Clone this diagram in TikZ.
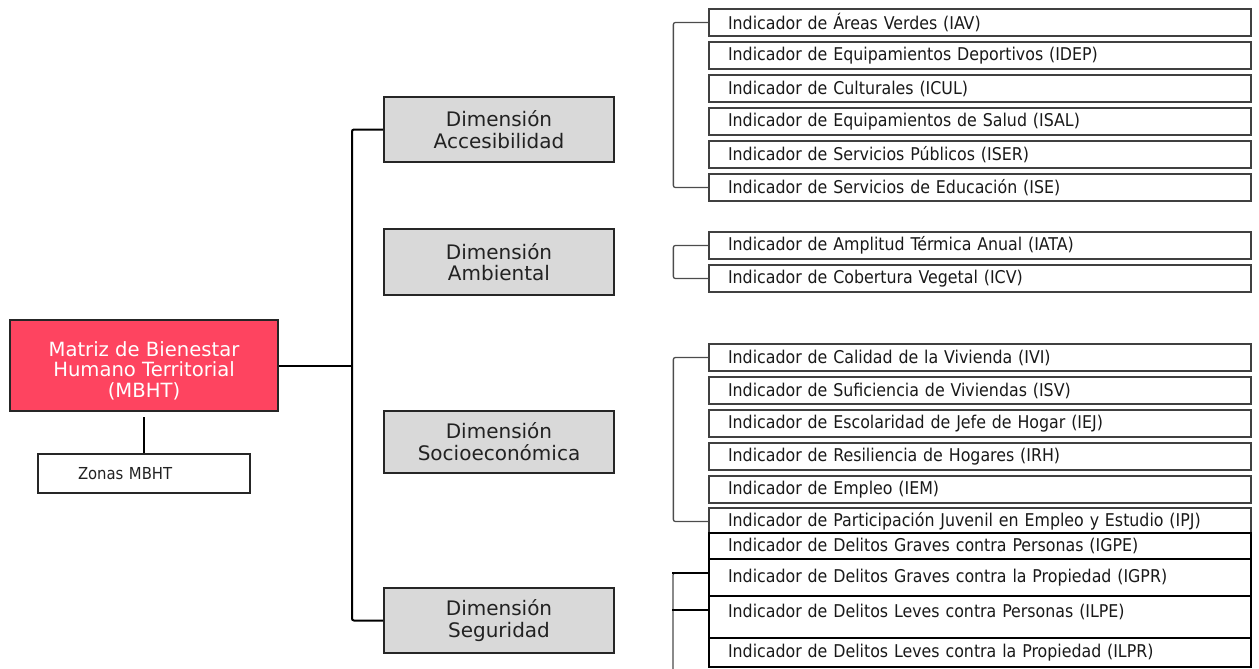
\documentclass[tikz,border=0pt]{standalone}
\usepackage{fontspec}
\setmainfont{DejaVu Sans}
\newfontfamily\indfont{DejaVu Sans Condensed}
\definecolor{mbhtred}{RGB}{254,68,96}
\definecolor{dimfill}{RGB}{217,217,217}
\definecolor{txt}{RGB}{34,34,34}
\begin{document}
\begin{tikzpicture}[x=1pt,y=-1pt,
  mainbox/.style={draw=black!85, line width=2pt, fill=mbhtred, minimum width=268pt, minimum height=91pt, align=center, text=white, inner sep=0pt, font=\fontsize{19.6}{20.5}\selectfont},
  zonebox/.style={draw=black!85, line width=2pt, fill=white, minimum height=39pt, text width=132pt, inner xsep=40pt, inner ysep=0pt, align=left, text=txt, font=\indfont\fontsize{16.5}{18}\selectfont},
  dimbox/.style={draw=black!85, line width=2pt, fill=dimfill, minimum width=230pt, align=center, text=txt, inner sep=0pt, font=\fontsize{20}{21.5}\selectfont},
  indbox/.style={draw=black!75, line width=1.3pt, fill=white, minimum height=27pt, text width=504pt, inner xsep=19pt, inner ysep=0pt, align=left, text=black!90, font=\indfont\fontsize{17.6}{19}\selectfont},
  secbox/.style={indbox, draw=black, line width=2.2pt},
  tree/.style={draw=black, line width=2pt, rounded corners=2pt},
  brk/.style={draw=black!70, line width=1.3pt, rounded corners=2pt},
  tick/.style={draw=black, line width=2pt}
]
\useasboundingbox (0,0) rectangle (1259,669);

% main boxes
\node[mainbox, text height=68pt, text depth=5pt] (MBHT) at (144,365.5) {Matriz de Bienestar\\Humano Territorial\\(MBHT)};
\node[zonebox] (Zonas) at (144,473.5) {Zonas MBHT};

\node[dimbox, minimum height=65pt] (Acc) at (499,129.5) {Dimensión\\Accesibilidad};
\node[dimbox, minimum height=66pt] (Amb) at (499,262) {Dimensión\\Ambiental};
\node[dimbox, minimum height=62pt] (Soc) at (499,441.5) {Dimensión\\Socioeconómica};
\node[dimbox, minimum height=65pt] (Seg) at (499,620.5) {Dimensión\\Seguridad};

% group 1
\node[indbox] (IAV)  at (980,22.5)  {Indicador de Áreas Verdes (IAV)};
\node[indbox] (IDEP) at (980,55.5)  {Indicador de Equipamientos Deportivos (IDEP)};
\node[indbox] (ICUL) at (980,88.5)  {Indicador de Culturales (ICUL)};
\node[indbox] (ISAL) at (980,121.5) {Indicador de Equipamientos de Salud (ISAL)};
\node[indbox] (ISER) at (980,154.5) {Indicador de Servicios Públicos (ISER)};
\node[indbox] (ISE)  at (980,187.5) {Indicador de Servicios de Educación (ISE)};

% group 2
\node[indbox] (IATA) at (980,245.5) {Indicador de Amplitud Térmica Anual (IATA)};
\node[indbox] (ICV)  at (980,278.5) {Indicador de Cobertura Vegetal (ICV)};

% group 3
\node[indbox] (IVI) at (980,357.5) {Indicador de Calidad de la Vivienda (IVI)};
\node[indbox] (ISV) at (980,390.5) {Indicador de Suficiencia de Viviendas (ISV)};
\node[indbox] (IEJ) at (980,423.5) {Indicador de Escolaridad de Jefe de Hogar (IEJ)};
\node[indbox] (IRH) at (980,456.5) {Indicador de Resiliencia de Hogares (IRH)};
\node[indbox] (IEM) at (980,489.5) {Indicador de Empleo (IEM)};
\node[indbox] (IPJ) at (980,521.5) {Indicador de Participación Juvenil en Empleo y Estudio (IPJ)};

% group 4
\node[secbox, minimum height=26pt] (IGPE) at (980,546) {Indicador de Delitos Graves contra Personas (IGPE)};
\node[secbox, minimum height=37pt] (IGPR) at (980,577.5) {Indicador de Delitos Graves contra la Propiedad (IGPR)};
\node[secbox, minimum height=42pt, text height=11pt, text depth=11pt] (ILPE) at (980,617) {Indicador de Delitos Leves contra Personas (ILPE)};
\node[secbox, minimum height=29pt] (ILPR) at (980,652.5) {Indicador de Delitos Leves contra la Propiedad (ILPR)};

% tree connectors
\draw[tree] (Acc.west) -- ++(-31,0) coordinate (spine) |- (Seg.west);
\draw[tree] (MBHT.east) -- (MBHT.east -| spine);
\draw[tree] ([yshift=-5pt]MBHT.south -| Zonas.north) -- (Zonas.north);

% brackets
\draw[brk] (IAV.west) -- ++(-35,0) |- (ISE.west);
\draw[brk] (IATA.west) -- ++(-35,0) |- (ICV.west);
\draw[brk] (IVI.west) -- ++(-35,0) |- (IPJ.west);

\coordinate (g4bot) at (673,669);
\draw[brk] ([yshift=4.5pt]IGPR.west) -| (g4bot);
\draw[tick] ([yshift=4.5pt]IGPR.west) -- ++(-36,0);
\draw[tick] ([yshift=7pt]ILPE.west) -- ++(-36,0);
\end{tikzpicture}
\end{document}
